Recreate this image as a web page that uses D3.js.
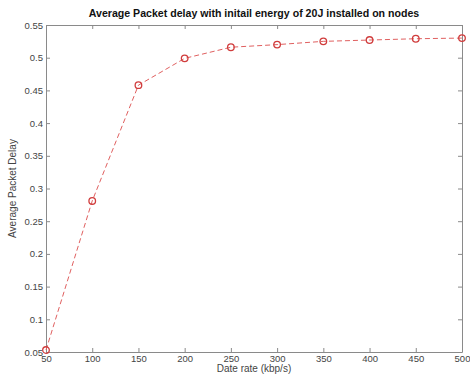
<!DOCTYPE html>
<html>
<head>
<meta charset="utf-8">
<script src="https://cdn.jsdelivr.net/npm/d3@7"></script>
<style>
  body { margin: 0; background: #fff; }
  text { font-family: "Liberation Sans", Arial, sans-serif; }
</style>
</head>
<body>
<svg width="470" height="376"></svg>
<script>
const rates = [50, 100, 150, 200, 250, 300, 350, 400, 450, 500];
const delays = [0.053, 0.281, 0.458, 0.499, 0.516, 0.520, 0.525, 0.527, 0.529, 0.530];
const xTicks = [50, 100, 150, 200, 250, 300, 350, 400, 450, 500];
const yTicks = [0.05, 0.1, 0.15, 0.2, 0.25, 0.3, 0.35, 0.4, 0.45, 0.5, 0.55];

const svg = d3.select("svg");
const margin = {top: 25, right: 8, bottom: 24, left: 46};
const width = 470 - margin.left - margin.right,
      height = 376 - margin.top - margin.bottom;

const x = d3.scaleLinear().domain([50, 500]).range([0, width]);
const y = d3.scaleLinear().domain([0.05, 0.55]).range([height, 0]);

const g = svg.append("g").attr("transform", `translate(${margin.left},${margin.top})`);

const axisColor = "#8a8a8a";
const textColor = "#444";

// 坐标轴（刻度朝内）
const xAxis = g.append("g").attr("transform", `translate(0,${height})`)
    .call(d3.axisBottom(x).tickValues(xTicks).tickSizeInner(-4).tickSizeOuter(0).tickPadding(4));
const xTop = g.append("g")
    .call(d3.axisTop(x).tickValues(xTicks).tickSizeInner(-4).tickSizeOuter(0).tickFormat(""));
const yAxis = g.append("g")
    .call(d3.axisLeft(y).tickValues(yTicks).tickSizeInner(-4).tickSizeOuter(0).tickPadding(3)
        .tickFormat(d => d3.format("")(+d.toFixed(2))));
const yRight = g.append("g").attr("transform", `translate(${width},0)`)
    .call(d3.axisRight(y).tickValues(yTicks).tickSizeInner(-4).tickSizeOuter(0).tickFormat(""));

[xAxis, xTop, yAxis, yRight].forEach(a => {
    a.selectAll("path, line").attr("stroke", axisColor);
    a.selectAll("text").attr("fill", textColor).style("font-size", "9.5px");
});
xAxis.selectAll("text").attr("dy", "0.6em");

// 折线
const line = d3.line().x((d, i) => x(rates[i])).y(d => y(d));
g.append("path")
    .datum(delays)
    .attr("fill", "none")
    .attr("stroke", "#e06060")
    .attr("stroke-width", 1)
    .attr("stroke-dasharray", "5,3")
    .attr("d", line);

g.selectAll("circle.pt")
    .data(delays)
    .enter().append("circle")
    .attr("class", "pt")
    .attr("cx", (d, i) => x(rates[i]))
    .attr("cy", d => y(d))
    .attr("r", 3.3)
    .attr("fill", "none")
    .attr("stroke", "#d03c3c")
    .attr("stroke-width", 1.3);

// 标题和轴标签
svg.append("text")
    .attr("x", margin.left + width / 2)
    .attr("y", 17)
    .attr("text-anchor", "middle")
    .style("font-size", "10.6px")
    .style("font-weight", "bold")
    .attr("fill", "#111")
    .text("Average Packet delay with initail energy of 20J installed on nodes");

svg.append("text")
    .attr("x", margin.left + width / 2)
    .attr("y", 372)
    .attr("text-anchor", "middle")
    .style("font-size", "10px")
    .attr("fill", textColor)
    .text("Date rate (kbp/s)");

svg.append("text")
    .attr("transform", `translate(16,${margin.top + height / 2}) rotate(-90)`)
    .attr("text-anchor", "middle")
    .style("font-size", "10px")
    .attr("fill", textColor)
    .text("Average Packet Delay");
</script>
</body>
</html>
